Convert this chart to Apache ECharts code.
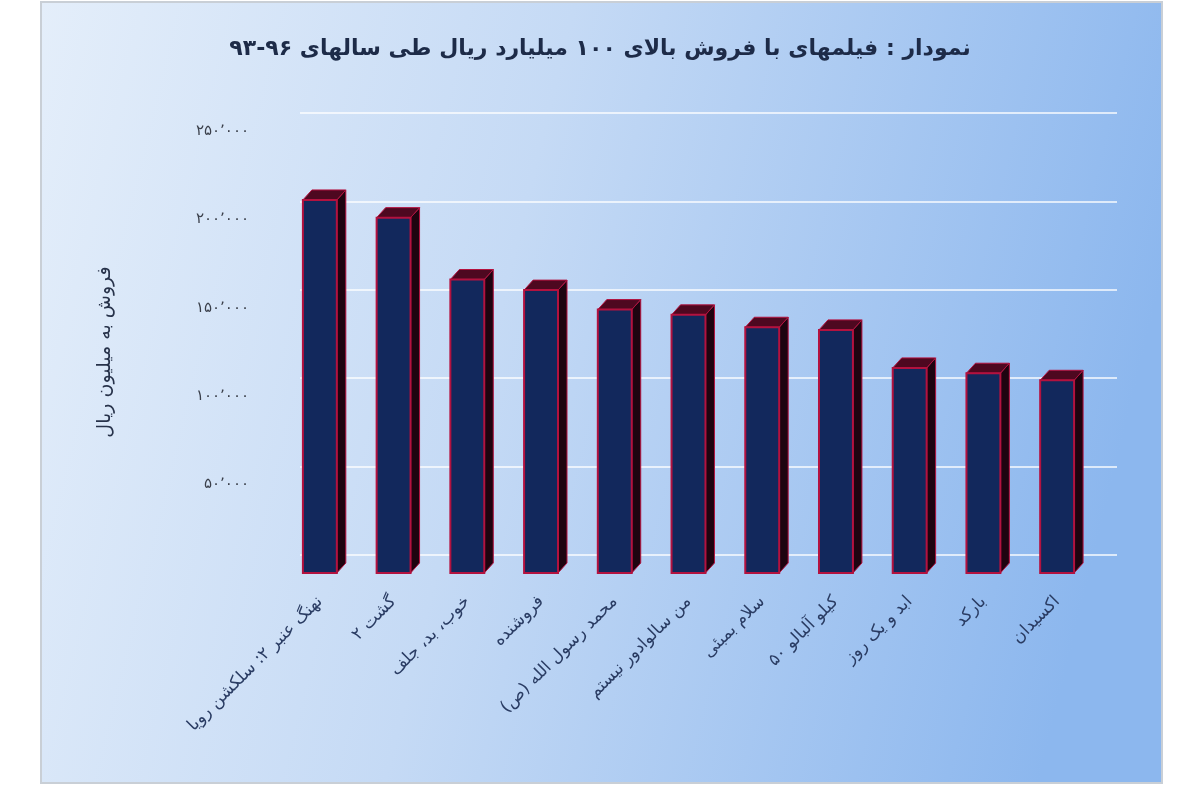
<!DOCTYPE html>
<html>
<head>
<meta charset="utf-8">
<script src="https://cdn.jsdelivr.net/npm/echarts@6/dist/echarts.min.js"></script>
<style>
  html, body { margin: 0; padding: 0; background: #ffffff; }
  #chart { width: 1200px; height: 800px; }
</style>
</head>
<body>
<div id="chart"></div>
<script>
// ---- data ----
const titleText = 'نمودار : فیلمهای با فروش بالای ۱۰۰ میلیارد ریال طی سالهای ۹۶-۹۳';
const yAxisName = 'فروش به میلیون ریال';
const categories = [
  'نهنگ عنبر ۲: سلکشن رویا',
  'گشت ۲',
  'خوب، بد، جلف',
  'فروشنده',
  'محمد رسول الله (ص)',
  'من سالوادور نیستم',
  'سلام بمبئی',
  '۵۰ کیلو آلبالو',
  'ابد و یک روز',
  'بارکد',
  'اکسیدان'
];
const sales = [211000, 201000, 166000, 160000, 149000, 146000, 139000, 137500, 116000, 113000, 109000];
const yTicks = [0, 50000, 100000, 150000, 200000, 250000];

// ---- helpers ----
const faDigits = '۰۱۲۳۴۵۶۷۸۹';
function toFa(n) {
  const s = String(n).replace(/\B(?=(\d{3})+(?!\d))/g, '٬');
  return s.replace(/\d/g, d => faDigits[d]);
}

const yMin = yTicks[0];
const yMax = yTicks[yTicks.length - 1];
const yStep = yTicks[1] - yTicks[0];

const DX = 9, DY = 10;

function renderBar(params, api) {
  const idx = api.value(0);
  const val = api.value(1);
  const top = api.coord([idx, val]);
  const base = api.coord([idx, 0]);
  const band = api.size([1, 0])[0];
  const w = band * 0.46;
  const x0 = top[0] - w / 2, x1 = top[0] + w / 2;
  const yt = top[1], yb = base[1];
  const stroke = '#b3123f';
  return {
    type: 'group',
    children: [
      {
        type: 'polygon',
        shape: { points: [[x1, yt], [x1 + DX, yt - DY], [x1 + DX, yb - DY], [x1, yb]] },
        style: { fill: '#1e0410', stroke: stroke, lineWidth: 1 }
      },
      {
        type: 'polygon',
        shape: { points: [[x0, yt], [x0 + DX, yt - DY], [x1 + DX, yt - DY], [x1, yt]] },
        style: { fill: '#4e0820', stroke: stroke, lineWidth: 1 }
      },
      {
        type: 'rect',
        shape: { x: x0, y: yt, width: w, height: yb - yt },
        style: { fill: '#12285c', stroke: stroke, lineWidth: 2 }
      }
    ]
  };
}

const chart = echarts.init(document.getElementById('chart'), null, { renderer: 'canvas' });

const option = {
  backgroundColor: '#ffffff',
  animation: false,
  graphic: [
    {
      type: 'rect',
      z: -10,
      silent: true,
      shape: { x: 41, y: 2, width: 1121, height: 781 },
      style: {
        fill: new echarts.graphic.LinearGradient(0, 0, 1, 0.35, [
          { offset: 0, color: '#e4eefa' },
          { offset: 0.45, color: '#c5daf5' },
          { offset: 1, color: '#8cb7ee' }
        ]),
        stroke: '#c9cfd6',
        lineWidth: 2
      }
    }
  ],
  title: {
    text: titleText,
    left: 'center',
    top: 33,
    textStyle: {
      fontFamily: 'DejaVu Sans',
      fontSize: 22,
      fontWeight: 'bold',
      color: '#1d2b48'
    }
  },
  grid: [
    { left: 283, right: 106, top: 131, bottom: 227 },
    { left: 300, right: 83, top: 113, bottom: 245 }
  ],
  xAxis: [
    {
      type: 'category',
      gridIndex: 0,
      data: categories,
      axisLine: { show: false },
      axisTick: { show: false },
      axisLabel: {
        interval: 0,
        rotate: 45,
        margin: 26,
        fontFamily: 'DejaVu Sans',
        fontSize: 17,
        color: '#2a3c63'
      }
    },
    {
      type: 'category',
      gridIndex: 1,
      data: categories,
      show: false
    }
  ],
  yAxis: [
    {
      type: 'value',
      gridIndex: 0,
      min: yMin,
      max: yMax,
      interval: yStep,
      name: yAxisName,
      nameLocation: 'middle',
      nameGap: 168,
      nameRotate: 90,
      nameTextStyle: {
        fontFamily: 'DejaVu Sans',
        fontSize: 19,
        color: '#27324a'
      },
      axisLine: { show: false },
      axisTick: { show: false },
      splitLine: { show: false },
      axisLabel: {
        margin: 34,
        fontFamily: 'DejaVu Sans',
        fontSize: 15,
        color: '#3a3f4a',
        formatter: v => (v === 0 ? '' : toFa(v))
      }
    },
    {
      type: 'value',
      gridIndex: 1,
      min: yMin,
      max: yMax,
      interval: yStep,
      axisLine: { show: false },
      axisTick: { show: false },
      axisLabel: { show: false },
      splitLine: { show: true, lineStyle: { color: 'rgba(255,255,255,0.7)', width: 2 } }
    }
  ],
  series: [
    {
      type: 'custom',
      xAxisIndex: 0,
      yAxisIndex: 0,
      renderItem: renderBar,
      encode: { x: 0, y: 1 },
      data: sales.map((v, i) => [i, v]),
      z: 5
    }
  ]
};

chart.setOption(option);
</script>
</body>
</html>
